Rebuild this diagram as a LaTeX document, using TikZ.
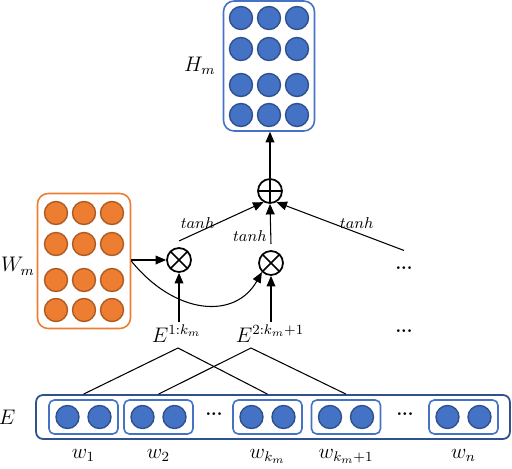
\documentclass[tikz,border=0pt]{standalone}
\usetikzlibrary{positioning, arrows.meta, calc}
\definecolor{cblue}{HTML}{4472C4}
\definecolor{cbluedark}{HTML}{2F528F}
\definecolor{corange}{HTML}{ED7D31}
\definecolor{corangedark}{HTML}{AE5A21}

\begin{document}
\begin{tikzpicture}[
  x=0.02cm, y=-0.02cm,
  font=\large,
  bdot/.style={circle, draw=cbluedark, fill=cblue, line width=0.8pt,
               minimum size=0.46cm, inner sep=0pt},
  odot/.style={circle, draw=corangedark, fill=corange, line width=0.8pt,
               minimum size=0.46cm, inner sep=0pt},
  hbox/.style={draw=cblue, line width=0.9pt, rounded corners=6pt,
               minimum width=1.82cm, minimum height=2.6cm},
  wbox/.style={draw=corange, line width=0.9pt, rounded corners=6pt,
               minimum width=1.86cm, minimum height=2.7cm},
  ebox/.style={draw=cbluedark, line width=1pt, rounded corners=4pt,
               minimum width=9.48cm, minimum height=0.88cm},
  tok/.style={draw=cblue, line width=0.9pt, rounded corners=3pt,
              minimum width=1.38cm, minimum height=0.68cm},
  prodnode/.style={circle, draw, line width=1pt, minimum size=0.48cm, inner sep=0pt,
    path picture={\draw[line width=1pt]
      (path picture bounding box.north west) -- (path picture bounding box.south east)
      (path picture bounding box.north east) -- (path picture bounding box.south west);}},
  sumnode/.style={circle, draw, line width=1pt, minimum size=0.48cm, inner sep=0pt,
    path picture={\draw[line width=1pt]
      (path picture bounding box.north) -- (path picture bounding box.south)
      (path picture bounding box.west) -- (path picture bounding box.east);}},
  lbl/.style={inner sep=1pt},
  wlbl/.style={anchor=north, text height=1.6ex, text depth=1ex},
  fn/.style={font=\small, inner sep=2pt},
  dotsnode/.style={font=\normalsize\bfseries, inner sep=1pt},
  link/.style={semithick},
  arr/.style={-{Triangle[length=6pt, width=5pt]}, semithick},
]
\useasboundingbox (0,0) rectangle (512,468);

% hidden state block and kernel weights
\node[hbox] (hm) at (269,66) {};
\node[wbox] (wm) at (84,261) {};
\foreach \dy [count=\r] in {-48,-17,19,49} {
  \foreach \dx [count=\c] in {-28,0,28} {
    \node[bdot] (h\r\c) at ($(hm)+(\dx,\dy)$) {};
    \node[odot] (k\r\c) at ($(wm)+(\dx,\dy)$) {};
  }
}
\node[lbl, left=3pt of hm] (hml) {$H_m$};
\node[inner sep=0pt, left=1pt of wm, yshift=-3pt] (wml) {$W_m$};

% embedding row
\node[ebox] (E) at (273,417) {};
\node[lbl, left=10pt of E] (el) {$E$};
\foreach \n/\x in {w1/83.5, w2/158.5, wk/267.5, wkk/346, wn/463.5} {
  \node[tok] (\n) at (\x,417) {};
  \node[bdot] (\n a) at ($(\n)+(-16,0)$) {};
  \node[bdot] (\n b) at ($(\n)+(16,0)$) {};
}
\node[dotsnode] (dd1) at (214,414) {...};
\node[dotsnode] (dd2) at (405,414) {...};
\node[wlbl] (lw1) at (w1 |- E.south) {$w_1$};
\node[wlbl] (lw2) at (w2 |- E.south) {$w_2$};
\node[wlbl] (lwk) at (wk |- E.south) {$w_{k_m}$};
\node[wlbl] (lwkk) at (wkk |- E.south) {$w_{k_m+1}$};
\node[wlbl] (lwn) at (wn |- E.south) {$w_n$};

% windows
\node[lbl, anchor=base] (e1) at (176.5,342) {$E^{1:k_m}$};
\node[lbl, anchor=base] (e2) at (270,342) {$E^{2:k_m+1}$};
\node[dotsnode] (d2) at (404,331) {...};
\coordinate (a1) at (178,348);
\coordinate (a2) at (251,348);
\draw[link] (w1 |- E.north) -- (a1) -- (wk |- E.north);
\draw[link] (w2 |- E.north) -- (a2) -- (wkk |- E.north);

% convolution
\node[prodnode] (ot1) at (179,260) {};
\node[prodnode] (ot2) at (271,263) {};
\node[dotsnode] (d1) at (404,268) {...};
\node[sumnode] (op) at (270,191) {};

\draw[arr] (e1.north -| ot1) -- (ot1);
\draw[arr] (e2.north -| ot2) -- (ot2);
\draw[arr] (wm.east |- ot1) -- (ot1);
\draw[arr] (wm.east) .. controls (175,315) and (235,320) .. (ot2.south west);
\draw[arr] ([yshift=3.5pt]ot1.north) -- node[fn, pos=0.22, above] (t1) {$tanh$} (op.-120);
\draw[arr] ([yshift=3.5pt]ot2.north) -- node[fn, pos=0.2, left] (t2) {$tanh$} (op.south);
\draw[arr] ([yshift=8pt]d1.north) -- node[fn, pos=0.37, above] (t3) {$tanh$} (op.-60);
\draw[arr] (op.north) -- (op.north |- hm.south);

\end{tikzpicture}
\end{document}
